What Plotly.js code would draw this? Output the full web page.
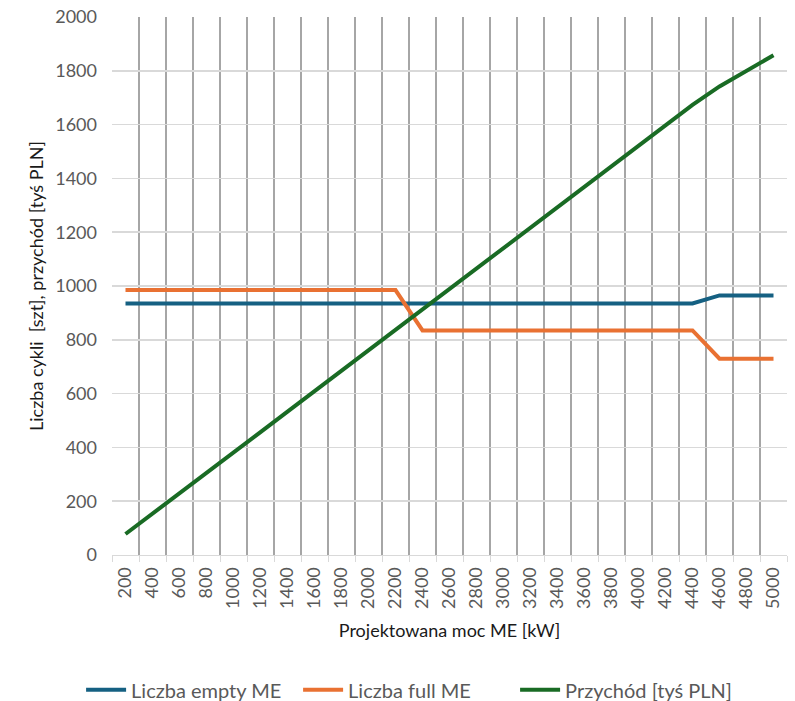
<!DOCTYPE html>
<html>
<head>
<meta charset="utf-8">
<script src="https://cdn.plot.ly/plotly-3.0.1.min.js"></script>
<style>
  html, body { margin: 0; padding: 0; background: #ffffff; }
  #chart { width: 795px; height: 701px; }
</style>
</head>
<body>
<div id="chart"></div>
<script>
const categories = ["200","400","600","800","1000","1200","1400","1600","1800","2000","2200","2400","2600","2800","3000","3200","3400","3600","3800","4000","4200","4400","4600","4800","5000"];
const emptyME = [935,935,935,935,935,935,935,935,935,935,935,935,935,935,935,935,935,935,935,935,935,935,965,965,965];
const fullME = [985,985,985,985,985,985,985,985,985,985,985,835,835,835,835,835,835,835,835,835,835,835,730,730,730];
const przychod = [78,153,229,305,381,457,533,609,685,761,837,913,989,1065,1141,1217,1293,1369,1445,1521,1597,1673,1742,1800,1858];
const seriesNames = ["Liczba empty ME","Liczba full ME","Przychód [tyś PLN]"];
const yTicks = [0,200,400,600,800,1000,1200,1400,1600,1800,2000];

const colors = ["#156082","#E97132","#196B24"];
const FONT = "Lato, 'Noto Sans', sans-serif";

const traces = [emptyME, fullME, przychod].map((vals, k) => ({
  type: "scatter",
  mode: "lines",
  x: categories,
  y: vals,
  name: seriesNames[k],
  line: { color: colors[k], width: 4, shape: "linear" },
  hoverinfo: "x+y+name"
}));

const layout = {
  width: 795,
  height: 701,
  margin: { l: 112, r: 8, t: 17, b: 146 },
  paper_bgcolor: "#ffffff",
  plot_bgcolor: "#ffffff",
  font: { family: FONT, color: "#595959", size: 18 },
  showlegend: true,
  legend: {
    orientation: "h",
    xref: "container",
    yref: "container",
    x: 0.102, xanchor: "left",
    y: 0.016, yanchor: "middle",
    font: { family: FONT, size: 20, color: "#595959" },
    itemwidth: 40,
    entrywidth: 162,
    entrywidthmode: "pixels",
    traceorder: "normal"
  },
  xaxis: {
    type: "category",
    range: [-0.5, 24.5],
    automargin: false,
    tickson: "boundaries",
    ticks: "outside",
    ticklen: 6,
    tickcolor: "#d9d9d9",
    tickwidth: 1,
    tickangle: -90,
    ticklabelstandoff: 4,
    showgrid: true,
    gridcolor: "#a6a6a6",
    gridwidth: 1.5,
    showline: true,
    linecolor: "#d9d9d9",
    linewidth: 1,
    mirror: false,
    zeroline: false,
    tickfont: { family: FONT, size: 18, color: "#595959" },
    title: { text: "Projektowana moc ME [kW]", standoff: 16, font: { family: FONT, size: 18, color: "#1a1a1a" } }
  },
  yaxis: {
    range: [0, 2000],
    automargin: false,
    tickvals: yTicks,
    ticktext: yTicks.map(String),
    showgrid: true,
    gridcolor: "#d9d9d9",
    gridwidth: 1.5,
    zeroline: false,
    showline: false,
    ticks: "",
    ticklabelstandoff: 14,
    tickfont: { family: FONT, size: 18, color: "#595959" },
    title: { text: "Liczba cykli  [szt], przychód [tyś PLN]", standoff: 6, font: { family: FONT, size: 18, color: "#1a1a1a" } }
  }
};

Plotly.newPlot("chart", traces, layout, { displayModeBar: false, staticPlot: true });
</script>
</body>
</html>
